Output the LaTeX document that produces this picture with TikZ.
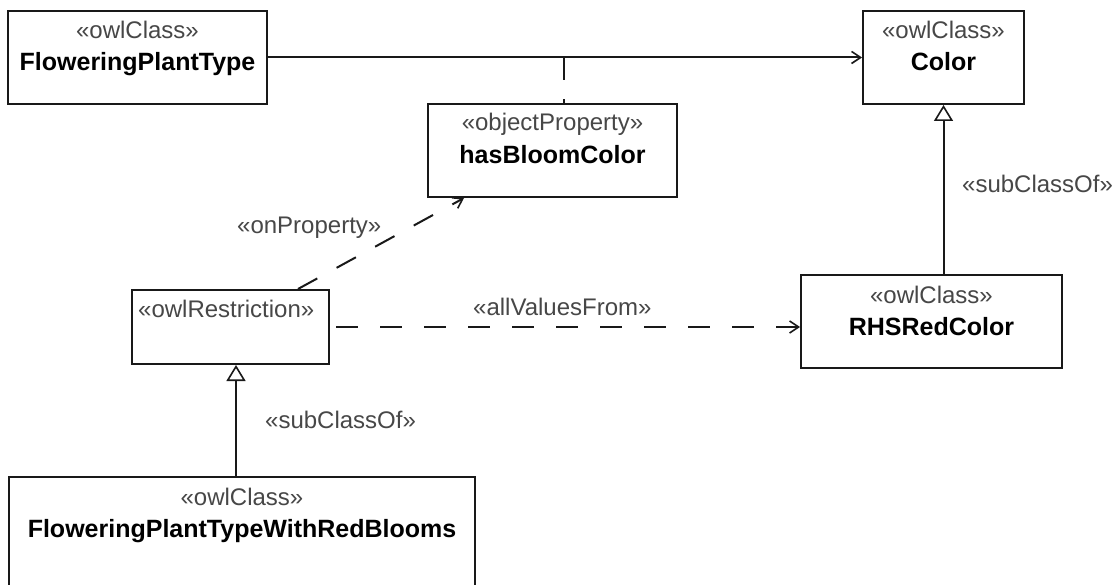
\documentclass[tikz,border=0pt]{standalone}
\usepackage{fontspec}
\setmainfont{Liberation Sans}
\usetikzlibrary{arrows.meta,calc}
\definecolor{stereo}{gray}{0.28}
\definecolor{ink}{gray}{0.1}
\tikzset{
  box/.style={draw=ink, line width=2pt, inner sep=0pt, rectangle, fill=white},
  stereotxt/.style={anchor=base, inner sep=0pt, text=stereo, font=\fontsize{24}{28}\selectfont},
  nametxt/.style={anchor=base, inner sep=0pt, text=black, font=\fontsize{25}{30}\selectfont\bfseries},
  lbl/.style={anchor=base west, inner sep=0pt, text=stereo, font=\fontsize{24}{28}\selectfont},
  conn/.style={line width=2pt, draw=ink},
  dashconn/.style={conn, dash pattern=on 22pt off 22pt},
  openarrow/.style={-{Straight Barb[length=9pt,width=12pt,line width=1.6pt]}},
  gen/.style={-{Triangle[open,length=16pt,width=19pt,line width=1.6pt,fill=white]}},
}
\begin{document}
\begin{tikzpicture}[x=1pt,y=-1pt]
\clip (0,0) rectangle (1116,585);
\fill[white] (0,0) rectangle (1116,585);

% boxes
\node[box, minimum width=259pt, minimum height=93pt] (fpt) at (137.5,57.5) {};
\node[box, minimum width=161pt, minimum height=93pt] (color) at (943.5,57.5) {};
\node[box, minimum width=249pt, minimum height=93pt] (hbc) at (552.5,150.5) {};
\node[box, minimum width=197pt, minimum height=74pt] (restr) at (230.5,327) {};
\node[box, minimum width=261pt, minimum height=93pt] (rhs) at (931.5,321.5) {};
\node[box, minimum width=466pt, minimum height=133pt] (fptw) at (242,543.5) {};

% texts in boxes
\node[stereotxt] (fpt-s) at ($(fpt.north)+(0,29)$) {«owlClass»};
\node[nametxt] (fpt-n) at ($(fpt.north)+(0,61)$) {FloweringPlantType};
\node[stereotxt] (color-s) at ($(color.north)+(0,29)$) {«owlClass»};
\node[nametxt] (color-n) at ($(color.north)+(0,61)$) {Color};
\node[stereotxt] (hbc-s) at ($(hbc.north)+(0,28)$) {«objectProperty»};
\node[nametxt] (hbc-n) at ($(hbc.north)+(0,61)$) {hasBloomColor};
\node[stereotxt, anchor=base west] (restr-s) at ($(restr.north west)+(7,28)$) {«owlRestriction»};
\node[stereotxt] (rhs-s) at ($(rhs.north)+(0,29)$) {«owlClass»};
\node[nametxt] (rhs-n) at ($(rhs.north)+(0,61)$) {RHSRedColor};
\node[stereotxt] (fptw-s) at ($(fptw.north)+(0,29)$) {«owlClass»};
\node[nametxt] (fptw-n) at ($(fptw.north)+(0,61)$) {FloweringPlantTypeWithRedBlooms};

% connectors
\draw[conn, openarrow] (fpt.east) -- (color.west);
\coordinate (tick) at (564,57.5);
\draw[conn, dash pattern=on 23pt off 19pt] (tick) -- (tick |- hbc.north);
\draw[dashconn, openarrow] ([xshift=67.5pt]restr.north) -- ([xshift=-88.5pt]hbc.south);
\draw[dashconn, openarrow] ([xshift=6pt]restr.east) -- (rhs.west |- restr.east);
\draw[conn, gen] (rhs.north -| color.south) -- (color.south);
\coordinate (gx) at (236,0);
\draw[conn, gen] (fptw.north -| gx) -- (restr.south -| gx);

% labels
\node[lbl] (lop) at (237,234) {«onProperty»};
\node[lbl] (lav) at (473,315) {«allValuesFrom»};
\node[lbl] (lsc1) at (962,193) {«subClassOf»};
\node[lbl] (lsc2) at (265,428) {«subClassOf»};
\end{tikzpicture}
\end{document}
